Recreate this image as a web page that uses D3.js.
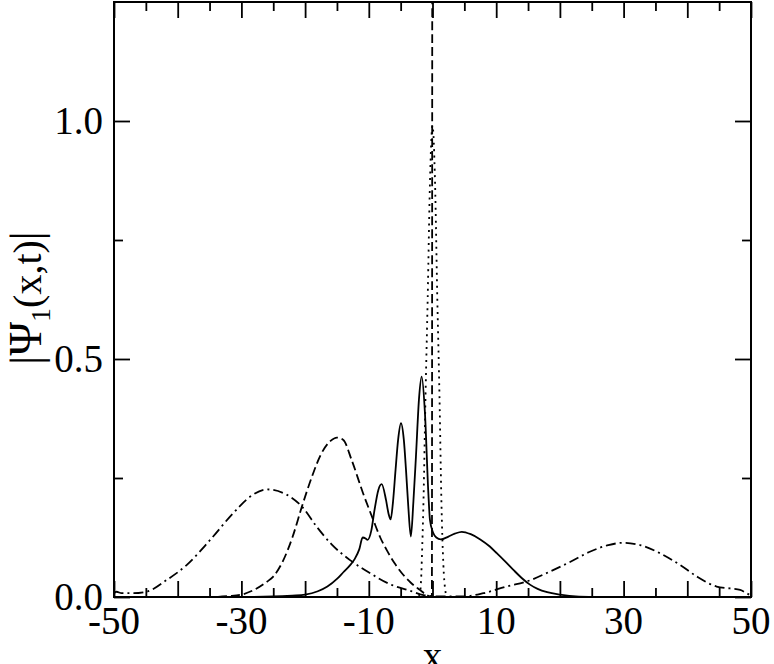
<!DOCTYPE html>
<html>
<head>
<meta charset="utf-8">
<script src="https://cdn.jsdelivr.net/npm/d3@7"></script>
<style>
  html, body { margin: 0; padding: 0; background: #fff; }
  svg { display: block; }
  text { font-family: "Liberation Serif", "Times New Roman", serif; fill: #000; }
</style>
</head>
<body>
<svg id="chart" width="774" height="664"></svg>
<script>
// ---- data ----
const xMajorTicks = [-50, -40, -30, -20, -10, 0, 10, 20, 30, 40, 50];
const xMinorTicks = [-45, -35, -25, -15, -5, 5, 15, 25, 35, 45];
const xTickLabels = [-50, -30, -10, 10, 30, 50];
const yMajorTicks = [0, 0.5, 1.0];
const yMinorTicks = [0.25, 0.75];
const yTickLabels = ["0.0", "0.5", "1.0"];

// solid curve
const solidX = [-50, -30, -25, -22, -20, -18, -16.5, -15, -14, -13, -12.2, -11.5, -10.96, -10.5, -10.2, -9.6, -9.1, -8.5, -7.98, -7.3, -6.9, -6.57, -6.2, -5.8, -5.4, -4.95, -4.5, -4.16, -3.8, -3.4, -3.0, -2.6, -2.1, -1.7, -1.2, -0.65, -0.4, 0.1, 0.6, 1.3, 2.5, 3.5, 4.6, 6.0, 7.5, 9.0, 10.1, 11.4, 12.7, 14.0, 15.3, 16.5, 18.0, 20.0, 23.0, 26.0, 50];
const solidY = [0, 0, 0.001, 0.003, 0.005, 0.012, 0.022, 0.038, 0.052, 0.066, 0.08, 0.1, 0.125, 0.123, 0.12, 0.14, 0.183, 0.225, 0.237, 0.204, 0.175, 0.163, 0.2, 0.267, 0.33, 0.365, 0.33, 0.267, 0.19, 0.127, 0.2, 0.295, 0.42, 0.463, 0.39, 0.218, 0.162, 0.135, 0.125, 0.121, 0.127, 0.133, 0.137, 0.132, 0.121, 0.106, 0.092, 0.075, 0.057, 0.040, 0.026, 0.017, 0.010, 0.005, 0.001, 0, 0];

// dashed curve (with narrow spike at x = 0)
const dashedX = [-50, -35, -32, -30, -28, -26, -25, -23.5, -22, -20.5, -19, -17.5, -16, -15, -14, -12.7, -10.9, -9.3, -8.2, -7.2, -6.0, -4.8, -3.4, -2.0, -1.0, -0.1, 0];
const dashedY = [0, 0, 0.002, 0.005, 0.015, 0.032, 0.043, 0.075, 0.125, 0.19, 0.25, 0.3, 0.328, 0.335, 0.33, 0.288, 0.218, 0.162, 0.125, 0.099, 0.072, 0.05, 0.03, 0.015, 0.005, 0, 3.0];

// dotted curve
const dottedX = [-50, -2.3, -1.9, -1.6, -1.4, -1.1, -0.75, -0.4, 0, 0.4, 0.75, 1.1, 1.4, 1.7, 2.0, 2.3, 50];
const dottedY = [0, 0, 0.015, 0.11, 0.21, 0.42, 0.63, 0.87, 0.99, 0.87, 0.63, 0.42, 0.2, 0.07, 0.015, 0, 0];

// dash-dot curve
const dashDotX = [-50, -49.6, -48.8, -47, -44.9, -41.7, -38.6, -34.9, -31.3, -28.6, -26.0, -22.9, -20.5, -18.2, -15.8, -13.0, -9.8, -6.7, -3.5, -1.4, 1.0, 4.8, 8.0, 11.6, 15.3, 18.2, 21.5, 24.7, 27.6, 30.0, 32.6, 35.7, 38.9, 41.5, 44.6, 46.7, 48.3, 49.3, 50];
const dashDotY = [0.008, 0.011, 0.008, 0.008, 0.011, 0.036, 0.067, 0.12, 0.176, 0.211, 0.226, 0.215, 0.19, 0.148, 0.11, 0.078, 0.05, 0.027, 0.013, 0.004, 0.001, 0.001, 0.008, 0.022, 0.035, 0.052, 0.073, 0.095, 0.109, 0.114, 0.109, 0.092, 0.067, 0.043, 0.022, 0.018, 0.015, 0.008, 0.003];

// ---- layout ----
const svg = d3.select("#chart");
const pL = 114, pR = 751, pT = 2, pB = 597;
const x = d3.scaleLinear().domain([-50, 50]).range([pL, pR]);
const y = d3.scaleLinear().domain([0, 1.25]).range([pB, pT]);

svg.append("defs").append("clipPath").attr("id", "clip")
  .append("rect").attr("x", pL).attr("y", pT).attr("width", pR - pL).attr("height", pB - pT);

const line = d3.line().x(d => x(d[0])).y(d => y(d[1])).curve(d3.curveMonotoneX);
const g = svg.append("g").attr("clip-path", "url(#clip)");

function drawCurve(xs, ys, dash) {
  const pts = xs.map((v, i) => [v, ys[i]]);
  g.append("path").attr("d", line(pts))
    .attr("fill", "none").attr("stroke", "#000").attr("stroke-width", 1.8)
    .attr("stroke-dasharray", dash);
}
drawCurve(dashDotX, dashDotY, "10,4,2,4");
drawCurve(dashedX, dashedY, "9,4");
drawCurve(dottedX, dottedY, "2,4.5");
drawCurve(solidX, solidY, null);

// ---- axes (ticks inward on all four sides) ----
const majorLen = 16, minorLen = 9;
function addAxis(ax, tx, ty) {
  const a = svg.append("g").attr("transform", `translate(${tx},${ty})`).call(ax);
  a.select(".domain").remove();
  a.selectAll("line").attr("stroke", "#000").attr("stroke-width", 1.8);
}
addAxis(d3.axisBottom(x).tickValues(xMajorTicks).tickSize(-majorLen).tickFormat(""), 0, pB);
addAxis(d3.axisBottom(x).tickValues(xMinorTicks).tickSize(-minorLen).tickFormat(""), 0, pB);
addAxis(d3.axisTop(x).tickValues(xMajorTicks).tickSize(-majorLen).tickFormat(""), 0, pT);
addAxis(d3.axisTop(x).tickValues(xMinorTicks).tickSize(-minorLen).tickFormat(""), 0, pT);
addAxis(d3.axisLeft(y).tickValues(yMajorTicks).tickSize(-majorLen).tickFormat(""), pL, 0);
addAxis(d3.axisLeft(y).tickValues(yMinorTicks).tickSize(-minorLen).tickFormat(""), pL, 0);
addAxis(d3.axisRight(y).tickValues(yMajorTicks).tickSize(-majorLen).tickFormat(""), pR, 0);
addAxis(d3.axisRight(y).tickValues(yMinorTicks).tickSize(-minorLen).tickFormat(""), pR, 0);

// frame
svg.append("rect").attr("x", pL).attr("y", pT).attr("width", pR - pL).attr("height", pB - pT)
  .attr("fill", "none").attr("stroke", "#000").attr("stroke-width", 2);

// tick labels
svg.append("g").selectAll("text").data(xTickLabels).join("text")
  .attr("x", d => x(d)).attr("y", 634).attr("text-anchor", "middle")
  .attr("font-size", 39).text(d => d);
svg.append("g").selectAll("text").data(yTickLabels).join("text")
  .attr("x", 103).attr("y", d => y(+d)).attr("dy", "0.34em").attr("text-anchor", "end")
  .attr("font-size", 39).text(d => d);

// axis titles
svg.append("text").attr("x", x(0)).attr("y", 669).attr("text-anchor", "middle")
  .attr("font-size", 39).text("x");

const yl = svg.append("text").attr("transform", "translate(41,298) rotate(-90)")
  .attr("text-anchor", "middle").attr("font-size", 40);
yl.append("tspan").attr("font-size", 44).text("|");
yl.append("tspan").attr("font-size", 46).text("Ψ");
yl.append("tspan").attr("font-size", 28).attr("dy", 9).text("1");
yl.append("tspan").attr("dy", -9).text("(x,t)");
yl.append("tspan").attr("font-size", 44).text("|");
</script>
</body>
</html>
